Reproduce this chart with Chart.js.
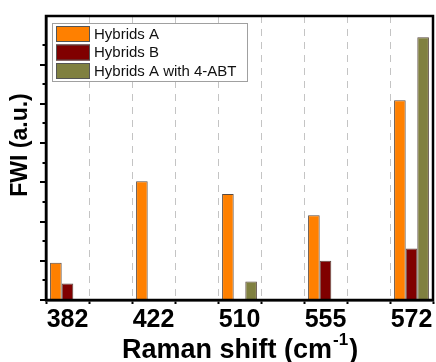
<!DOCTYPE html>
<html>
<head>
<meta charset="utf-8">
<script src="https://cdn.jsdelivr.net/npm/chart.js@4"></script>
<style>
  html, body { margin: 0; padding: 0; background: #fff; }
</style>
</head>
<body>
<canvas id="fwiChart" width="436" height="362"></canvas>
<script>
const shifts = ["382", "422", "510", "555", "572"];
const hybridsA = [0.95, 3.03, 2.70, 2.16, 5.09];
const hybridsB = [0.42, null, null, 1.00, 1.31];
const hybridsABT = [null, null, 0.47, null, 6.70];
const seriesNames = ["Hybrids A", "Hybrids B", "Hybrids A with 4-ABT"];
const seriesColors = ["#ff8000", "#800000", "#808040"];
const yMax = 7.24;
const yStep = 0.5;

const FONT = "Arial, 'Liberation Sans', sans-serif";

// empty slot between peaks, so the dashed lines sit between the groups
function spread(arr, blank) {
  return arr.flatMap((v, i) => (i < arr.length - 1 ? [v, blank] : [v]));
}

const extras = {
  id: "extras",
  afterDatasetsDraw(chart) {
    const { ctx, chartArea: a } = chart;
    ctx.save();
    ctx.strokeStyle = "#000";
    ctx.lineWidth = 2.5;
    ctx.strokeRect(a.left, a.top, a.right - a.left, a.bottom - a.top);
    ctx.restore();
  },
  afterDraw(chart) {
    const { ctx, chartArea: a } = chart;
    const y = chart.scales.y;

    // y ticks, long on whole units and short on halves
    ctx.save();
    ctx.strokeStyle = "#000";
    ctx.lineWidth = 2;
    y.ticks.forEach((t) => {
      if (Math.abs(t.value * 2 - Math.round(t.value * 2)) > 1e-6) return;
      const py = Math.round(y.getPixelForValue(t.value));
      const len = Number.isInteger(t.value) ? 6 : 3.5;
      ctx.beginPath();
      ctx.moveTo(a.left - len, py);
      ctx.lineTo(a.left, py);
      ctx.stroke();
    });
    ctx.restore();

    // legend box
    ctx.save();
    ctx.fillStyle = "#fff";
    ctx.fillRect(52.5, 23.5, 195, 58);
    ctx.strokeStyle = "#a0a0a0";
    ctx.lineWidth = 1;
    ctx.strokeRect(52.5, 23.5, 195, 58);
    const rows = [26, 44.5, 63];
    chart.data.datasets.forEach((ds, i) => {
      ctx.fillStyle = ds.backgroundColor;
      ctx.fillRect(56, rows[i], 34, 16);
      ctx.strokeStyle = "#555";
      ctx.strokeRect(56.5, rows[i] + 0.5, 33, 15);
      ctx.fillStyle = "#111";
      ctx.font = "15px " + FONT;
      ctx.textBaseline = "middle";
      ctx.fillText(ds.label, 94, rows[i] + 8.5);
    });
    ctx.restore();

    // axis titles
    ctx.save();
    ctx.fillStyle = "#000";
    ctx.font = "bold 23px " + FONT;
    ctx.textAlign = "center";
    ctx.textBaseline = "middle";
    ctx.translate(21, 145);
    ctx.rotate(-Math.PI / 2);
    ctx.fillText("FWI (a.u.)", 0, 0);
    ctx.restore();

    ctx.save();
    ctx.fillStyle = "#000";
    ctx.textBaseline = "alphabetic";
    ctx.font = "bold 27px " + FONT;
    const main = "Raman shift (cm";
    let x = 122;
    ctx.fillText(main, x, 358);
    x += ctx.measureText(main).width + 1;
    ctx.font = "bold 17px " + FONT;
    ctx.fillText("-1", x, 345);
    x += ctx.measureText("-1").width + 1;
    ctx.font = "bold 27px " + FONT;
    ctx.fillText(")", x, 358);
    ctx.restore();
  },
};

const sets = [hybridsA, hybridsB, hybridsABT].map((vals, i) => ({
  label: seriesNames[i],
  data: spread(vals, null),
  backgroundColor: seriesColors[i],
  borderColor: "#5a4a40",
  borderWidth: 1,
  categoryPercentage: 0.81,
  barPercentage: 1,
}));

new Chart(document.getElementById("fwiChart"), {
  type: "bar",
  data: { labels: spread(shifts, ""), datasets: sets },
  options: {
    responsive: false,
    animation: false,
    events: [],
    layout: { padding: { top: 16, right: 3, left: 0, bottom: 0 } },
    plugins: { legend: { display: false }, tooltip: { enabled: false } },
    scales: {
      x: {
        grid: {
          color: "#c4c4c4",
          lineWidth: 1,
          tickLength: 4,
          tickColor: "#000",
          tickWidth: 2,
        },
        border: { color: "#000", width: 2.5, dash: [7, 6] },
        ticks: {
          autoSkip: false,
          maxRotation: 0,
          padding: 1,
          color: "#000",
          font: { family: FONT, size: 25, weight: "bold" },
        },
        afterFit(scale) {
          scale.height = 62;
        },
      },
      y: {
        min: 0,
        max: yMax,
        ticks: { display: false, stepSize: yStep },
        grid: { display: false },
        border: { color: "#000", width: 2.5 },
        afterFit(scale) {
          scale.width = 46;
        },
      },
    },
  },
  plugins: [extras],
});
</script>
</body>
</html>
